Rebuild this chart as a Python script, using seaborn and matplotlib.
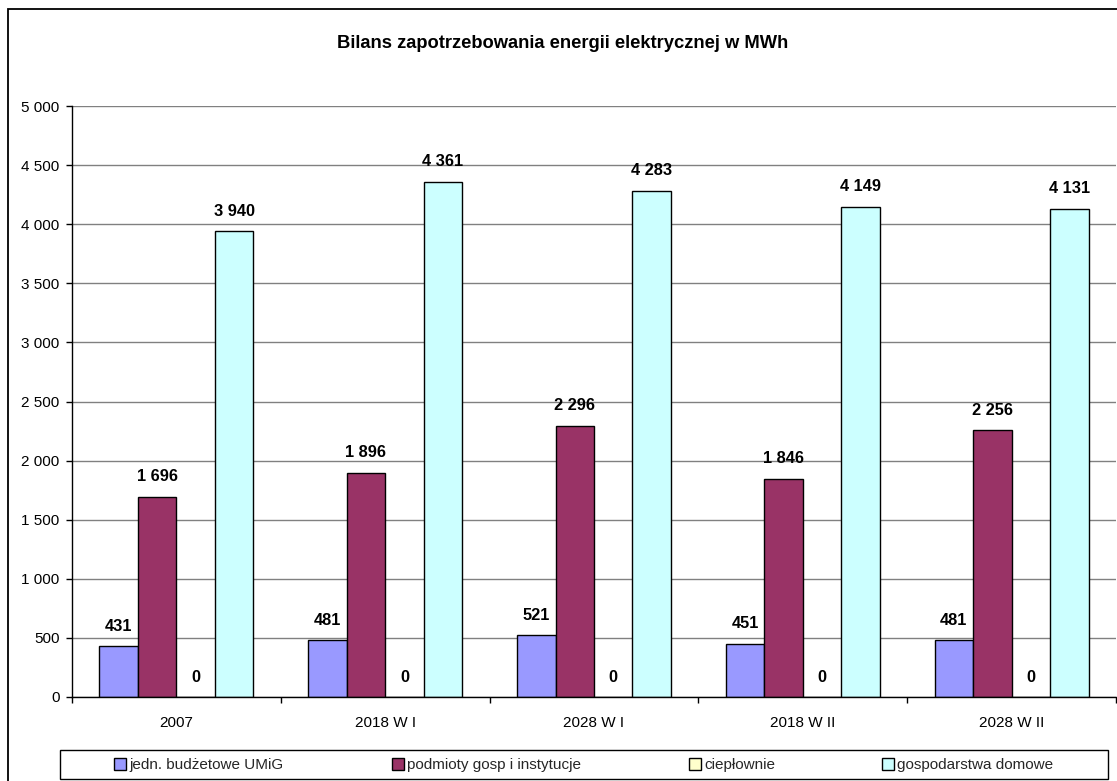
import matplotlib
matplotlib.use("Agg")
import matplotlib.pyplot as plt
from matplotlib.patches import Rectangle
from matplotlib.ticker import FixedLocator, FuncFormatter
import pandas as pd
import seaborn as sns

# Data (MWh)
categories = ["2007", "2018 W I", "2028 W I", "2018 W II", "2028 W II"]
series_names = ["jedn. budżetowe UMiG", "podmioty gosp i instytucje",
                "ciepłownie", "gospodarstwa domowe"]
budzetowe = [431, 481, 521, 451, 481]
podmioty = [1696, 1896, 2296, 1846, 2256]
cieplownie = [0, 0, 0, 0, 0]
gospodarstwa = [3940, 4361, 4283, 4149, 4131]
colors = ["#9999FF", "#993366", "#FFFFCC", "#CCFFFF"]
title = "Bilans zapotrzebowania energii elektrycznej w MWh"

values = [budzetowe, podmioty, cieplownie, gospodarstwa]
df = pd.DataFrame(
    [(cat, name, vals[i]) for name, vals in zip(series_names, values)
     for i, cat in enumerate(categories)],
    columns=["rok", "grupa", "mwh"],
)

sns.set_theme(style="white")
plt.rcParams["font.family"] = ["Liberation Sans", "DejaVu Sans"]

W, H = 1117, 781
fig = plt.figure(figsize=(W / 100, H / 100), dpi=100)
ax = fig.add_axes([72 / W, 1 - 697 / H, (1116 - 72) / W, (697 - 106) / H])

sns.barplot(data=df, x="rok", y="mwh", hue="grupa", order=categories,
            hue_order=series_names, palette=colors, saturation=1,
            width=0.737, errorbar=None, edgecolor="black", linewidth=1.0,
            ax=ax, legend=True)

ax.set_xlim(-0.5, len(categories) - 0.5)
ax.set_ylim(0, 5000)
ax.set_xlabel("")
ax.set_ylabel("")

# value labels
fmt = lambda v: f"{v:,.0f}".replace(",", " ")
for cont in ax.containers:
    ax.bar_label(cont, labels=[fmt(b.get_height()) for b in cont],
                 padding=9, fontsize=11.8, fontweight="bold", color="black")

# y axis
ax.yaxis.set_major_locator(FixedLocator(range(0, 5001, 500)))
ax.yaxis.set_major_formatter(FuncFormatter(lambda v, p: fmt(v)))
ax.tick_params(axis="y", which="major", direction="out", length=4.5,
               width=1, color="black", pad=4.5, labelsize=11,
               labelcolor="black", left=True)
ax.yaxis.grid(True, color="#808080", linewidth=1.0)
ax.set_axisbelow(True)

# x axis: category boundaries as ticks
ax.set_xticks(range(len(categories)))
ax.set_xticklabels(categories)
ax.xaxis.set_minor_locator(FixedLocator([i - 0.5 for i in range(len(categories) + 1)]))
ax.tick_params(axis="x", which="major", length=0, pad=13.5, labelsize=11,
               labelcolor="black")
ax.tick_params(axis="x", which="minor", direction="out", length=4.5,
               width=1, color="black", bottom=True)

for side in ["top", "right"]:
    ax.spines[side].set_visible(False)
for side in ["left", "bottom"]:
    ax.spines[side].set_color("black")
    ax.spines[side].set_linewidth(1.0)

fig.text(563 / W, 1 - 44 / H, title, ha="center", va="center",
         fontsize=13.2, fontweight="bold", color="black")

# legend: framed strip with four entries
handles, labels = ax.get_legend_handles_labels()
ax.get_legend().remove()
fig.patches.append(Rectangle((60 / W, 1 - 779 / H), (1108 - 60) / W, 29 / H,
                             transform=fig.transFigure, facecolor="white",
                             edgecolor="black", linewidth=1.0))
entry_x = [114, 392, 689, 882]
for h, lab, xpos in zip(handles, labels, entry_x):
    fig.legend([h], [lab], loc="center left",
               bbox_to_anchor=(xpos / W, 1 - 765 / H), frameon=False,
               fontsize=11, handlelength=0.8, handleheight=0.8,
               handletextpad=0.2, borderpad=0, borderaxespad=0)

# outer chart border
fig.patches.append(Rectangle((8 / W, -0.05), 1.2, 1.05 - 9 / H,
                             transform=fig.transFigure, facecolor="none",
                             edgecolor="black", linewidth=1.3))

fig.savefig("out.png", dpi=100)
